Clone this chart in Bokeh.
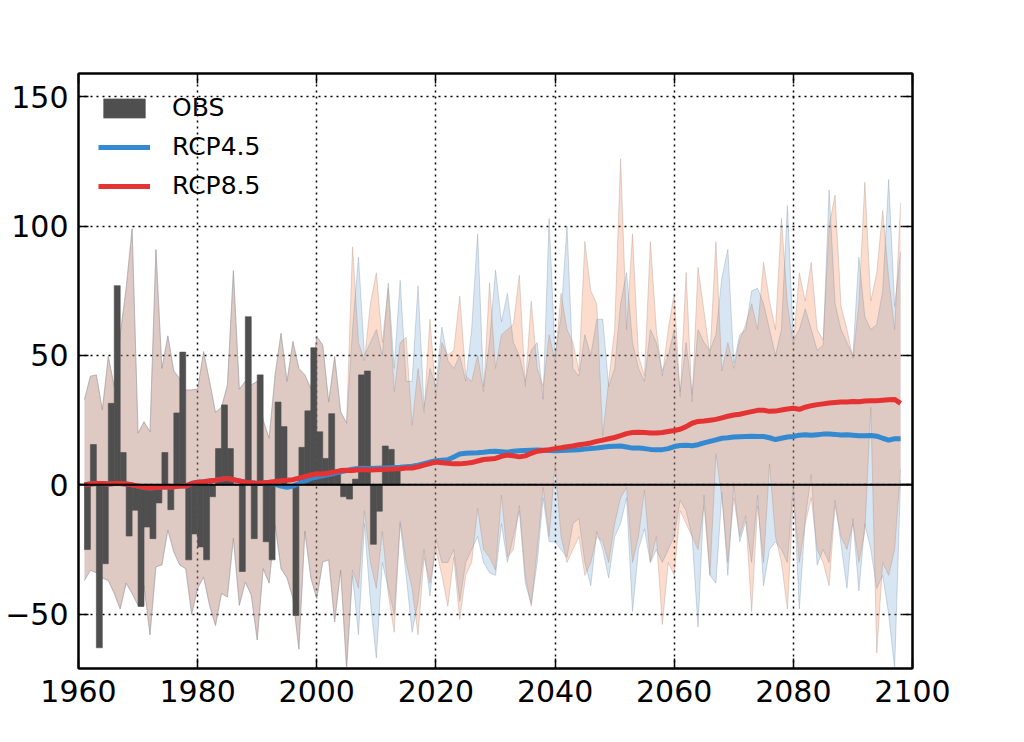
from bokeh.plotting import figure
from bokeh.models import (Range1d, FixedTicker, LinearAxis, Span, Legend, LegendItem,
                          ColumnDataSource, CustomJSTickFormatter)
from bokeh.embed import file_html
from bokeh.resources import INLINE

# ---------------- data ----------------
hist_years = list(range(1961, 2006))
rcp_years = list(range(2006, 2099))
obs_years = list(range(1961, 2014))

hist_hi = [33, 42, 42.5, 29, 49.6, 38, 58, 76, 99, 20,
           24.4, 20.5, 91, 45, 57.6, 44, 41, 36.7, 36.7, 37,
           51.5, 40, 28, 30, 38.6, 82.8, 37, 40, 38.6, 40,
           25, 18, 42.5, 58.6, 40, 55.4, 45, 42.5, 37.3, 57.4,
           54, 32, 49.6, 28.3, 23.8]
hist_lo = [-37, -33, -34, -36, -37, -42, -48, -38, -42, -46.6,
           -39, -58, -31.7, -31, -17.5, -26, -31, -32.4, -50, -40,
           -35.6, -46.6, -54.4, -42, -43.4, -20.7, -46.6, -37.6, -42.7, -60,
           -32.4, -38, -15.6, -32.4, -36, -44, -63.5, -18, -36, -44,
           -29.8, -29, -53, -33, -71]

r45_hi = [60, 88, 50, 55, 60, 50, 78, 45, 79, 40,
          40, 77, 30, 45, 38, 61, 48, 45, 50, 40,
          60, 97, 38, 55, 83, 63, 74, 55, 50, 40,
          52, 55, 33, 103, 50, 65, 100, 45, 42, 58,
          50, 64, 64, 38, 45, 70, 82, 55, 45, 40,
          60, 55, 44, 50, 60, 36, 55, 35, 60, 55,
          52, 58, 80, 91, 47, 58, 60, 75, 76, 70,
          60, 50, 60, 108, 56, 60, 68, 60, 52, 54,
          114, 70, 60, 55, 50, 88, 65, 60, 62, 75,
          118, 69, 90]
r85_hi = [92, 55, 48, 70, 82, 55, 76, 36, 55, 57,
          23, 45, 28, 64, 34, 55, 50, 52, 73, 42,
          40, 50, 36, 78, 45, 58, 60, 62, 81, 38,
          71, 45, 38, 58, 48, 74, 60, 55, 44, 94,
          75, 70, 19, 40, 60, 126, 60, 97, 50, 42,
          94, 60, 42, 60, 74, 34, 82, 32, 84, 67,
          50, 94, 44, 55, 45, 56, 62, 70, 60, 86,
          71, 60, 103, 70, 54, 82, 71, 86, 60, 56,
          100, 112, 69, 60, 49, 70, 117, 71, 82, 106,
          80, 60, 109]
r45_lo = [-35, -58, -15, -45, -67, -30, -40, -50, -15, -35,
          -57, -45, -25, -43, -21, -30, -30, -25, -45, -30,
          -25, -20, -30, -34, -35, -15, -30, -20, -10, -38,
          -46, -30, -5, -22, -22, -25, -28, -15, -13, -30,
          -39, -18, -25, -36, -20, -15, -5, -49, -25, -17,
          -30, -25, -30, -25, -20, -6, -10, -20, -55, -4,
          -35, -38, -3, -35, 0, -22, -14, -30, -4, -39,
          -25, -22, -25, -30, 0, -48, -13, 4, -31, -25,
          -30, -6, -23, -40, -13, -41, -15, -25, -40, -35,
          -50, -71, 2]
r85_lo = [-33, -40, -10, -30, -40, -18, -42, -57, -14, -30,
          -40, -58, -28, -38, -25, -35, -47, -28, -52, -35,
          -30, -9, -25, -28, -33, -4, -28, -25, -8, -35,
          -47, -25, -1, -20, 8, -20, -30, -25, -20, -35,
          -30, -20, -22, -30, -15, -5, -1, -30, -20, -2,
          -30, -20, -54, -30, -35, -10, -15, -20, -25, -8,
          -35, 12, -5, -30, -5, -20, -12, -49, -8, -30,
          8, -20, -30, -48, -5, -30, -15, -5, -25, -30,
          -39, -8, -20, -25, -15, -30, -18, 30, -65, -30,
          -35, -25, 6]

r85_med = [0, 0.3, 0.5, 0.5, 0.3, 0.5, 0.5, 0.3, 0, -0.5,
           -1, -1.2, -1, -0.8, -0.7, -0.8, -0.5, -0.5, 0.5, 1,
           1.2, 1.5, 1.8, 2.2, 2.5, 2, 1.5, 1, 0.8, 0.5,
           0.8, 1, 1.3, 1.6, 1.8, 2, 2.6, 3.2, 3.8, 4.3,
           4.2, 4.6, 5, 5.5, 5.6, 5.5, 5.8, 5.8, 5.7, 5.8,
           5.9, 6, 6.1, 6.2, 6.5, 6.5, 7, 7.6, 8.2, 8.8,
           8.5, 8.3, 8.1, 8.1, 8.3, 8.6, 9.2, 9.8, 10, 10.2,
           11, 11.5, 11.2, 10.8, 11.2, 12.2, 13, 13.3, 13.6, 14,
           14.3, 14.7, 15, 15.5, 15.8, 16.2, 16.8, 17.3, 17.8, 18.3,
           19, 19.8, 20.2, 20.3, 20.2, 20, 20, 20.2, 20.6, 21,
           21.5, 22.5, 23.8, 24.5, 24.7, 25, 25.3, 25.9, 26.5, 27,
           27.3, 27.8, 28.3, 28.8, 28.8, 28.4, 28.5, 28.9, 29.3, 29.6,
           29.2, 30, 30.6, 31, 31.3, 31.6, 31.8, 32, 32, 32.2,
           32.1, 32.4, 32.5, 32.5, 32.7, 32.9, 33, 31.5]
r45_med = [0, 0.3, 0.5, 0.5, 0.3, 0.5, 0.5, 0.3, 0, -0.5,
           -1, -1.2, -1, -0.8, -0.7, -0.8, -0.5, -0.5, 0.5, 1,
           1.2, 1.5, 1.8, 2.2, 2.5, 2, 1.5, 1, 0.8, 0.5,
           0.5, 0.5, 0.3, -0.5, -1, -0.5, 0.5, 1.5, 2.5, 3,
           3.5, 4, 4.5, 5, 5.5, 6, 6.3, 6.4, 6.3, 6.4,
           6.5, 6.6, 6.7, 6.8, 7, 7.2, 7.6, 8.2, 8.8, 9.3,
           9.5, 9.7, 10.8, 11.9, 12.2, 12.3, 12.4, 12.6, 12.9, 13,
           12.8, 12.6, 13, 13.2, 13.3, 13.4, 13.5, 13.4, 13.3, 13.2,
           13.3, 13.4, 13.5, 13.6, 13.8, 14, 14.2, 14.5, 14.8, 14.9,
           15, 14.6, 14.2, 14.2, 14, 13.7, 13.6, 13.6, 14, 14.8,
           15.2, 15.3, 15.1, 15.5, 16.2, 16.8, 17.4, 18, 18.2, 18.5,
           18.6, 18.7, 18.8, 18.7, 18.7, 18.2, 17.5, 18, 18.5, 18.7,
           19.2, 19.4, 19.2, 19.4, 19.6, 19.6, 19.5, 19.3, 19.4, 19.2,
           19, 19, 19.1, 18.8, 18, 17.3, 17.8, 17.8]

obs = [-25, 15.6, -63, -30.5, 31.5, 77, 12.5, -19.8, -9.8, -47,
       -16.3, -20.8, -7, 12.5, -9.6, 27.8, 51.3, -29, -19, -24,
       -29, -4.6, 14, 30.9, 14, 0, -33.5, 65, -20.8, 42.5,
       -22, -29, 32, 22.5, -1, -50.5, 14.5, 28.6, 53, 20.5,
       10.2, 27.5, 5.7, -4.6, -5.5, 2.2, 42.5, 44, -23, -10.2,
       15, 13.7, 6.3]

x_ticks = [1960, 1980, 2000, 2020, 2040, 2060, 2080, 2100]
y_ticks = [-50, 0, 50, 100, 150]

# ---------------- derived ----------------
years = hist_years + rcp_years
band = ColumnDataSource(dict(
    x=years,
    hi45=hist_hi + r45_hi, lo45=hist_lo + r45_lo,
    hi85=hist_hi + r85_hi, lo85=hist_lo + r85_lo,
    m45=r45_med, m85=r85_med))
bars = ColumnDataSource(dict(x=[y + 0.5 for y in obs_years], top=obs))

FONT = "DejaVu Sans"

p = figure(width=1008, height=730,
           x_range=Range1d(1960, 2100), y_range=Range1d(-71, 159),
           output_backend="svg", toolbar_location=None,
           min_border_left=78, min_border_right=96,
           min_border_top=73, min_border_bottom=62,
           background_fill_color="white", border_fill_color="white")
p.outline_line_color = "black"
p.outline_line_width = 2

# bands
p.varea(x="x", y1="lo45", y2="hi45", source=band,
        fill_color="#5f9bcb", fill_alpha=0.25)
p.varea(x="x", y1="lo85", y2="hi85", source=band,
        fill_color="#f37337", fill_alpha=0.25)
for col, c in (("hi45", "#7f93a8"), ("lo45", "#7f93a8"),
               ("hi85", "#a88f86"), ("lo85", "#a88f86")):
    p.line(x="x", y=col, source=band, line_color=c, line_alpha=0.35, line_width=1)

# observations
obs_r = p.vbar(x="x", top="top", bottom=0, width=1.0, source=bars,
               fill_color="#4f4f4f", line_color="#4f4f4f", line_width=0.6)

# zero line
p.add_layout(Span(location=0, dimension="width", line_color="black", line_width=2))

# medians
l45 = p.line(x="x", y="m45", source=band, line_color="#348ad0", line_width=5)
l85 = p.line(x="x", y="m85", source=band, line_color="#e53232", line_width=5)

# axes
for ax in (p.xaxis[0], p.yaxis[0]):
    ax.major_label_text_font = FONT
    ax.major_label_text_font_size = "30px"
    ax.major_label_text_color = "black"
    ax.major_tick_in = 10
    ax.major_tick_out = 0
    ax.minor_tick_line_color = None
    ax.axis_line_width = 2
    ax.major_tick_line_width = 1.5
p.xaxis.ticker = FixedTicker(ticks=x_ticks)
p.yaxis.ticker = FixedTicker(ticks=y_ticks)
p.xaxis.major_label_standoff = 11
p.yaxis.major_label_standoff = 10
p.yaxis.major_label_overrides = {-50: "\u221250"}

blank = CustomJSTickFormatter(code="return ''")
top_ax = LinearAxis(ticker=FixedTicker(ticks=x_ticks), formatter=blank,
                    major_tick_in=10, major_tick_out=0, minor_tick_line_color=None,
                    axis_line_width=2, major_tick_line_width=1.5)
right_ax = LinearAxis(ticker=FixedTicker(ticks=y_ticks), formatter=blank,
                      major_tick_in=10, major_tick_out=0, minor_tick_line_color=None,
                      axis_line_width=2, major_tick_line_width=1.5)
p.add_layout(top_ax, "above")
p.add_layout(right_ax, "right")

# grid
for g in (p.xgrid[0], p.ygrid[0]):
    g.grid_line_color = "black"
    g.grid_line_dash = "2 4"
    g.grid_line_width = 1.5
p.xgrid.ticker = FixedTicker(ticks=x_ticks)
p.ygrid.ticker = FixedTicker(ticks=y_ticks)

# legend
legend = Legend(items=[LegendItem(label="OBS", renderers=[obs_r]),
                       LegendItem(label="RCP4.5", renderers=[l45]),
                       LegendItem(label="RCP8.5", renderers=[l85])],
                location="top_left")
legend.label_text_font = FONT
legend.label_text_font_size = "25px"
legend.label_text_color = "black"
legend.background_fill_alpha = 0
legend.border_line_alpha = 0
legend.glyph_width = 52
legend.glyph_height = 24
legend.label_standoff = 22
legend.spacing = 10
legend.padding = 8
legend.margin = 12
p.add_layout(legend)

open("out.html", "w").write(file_html(p, INLINE))
